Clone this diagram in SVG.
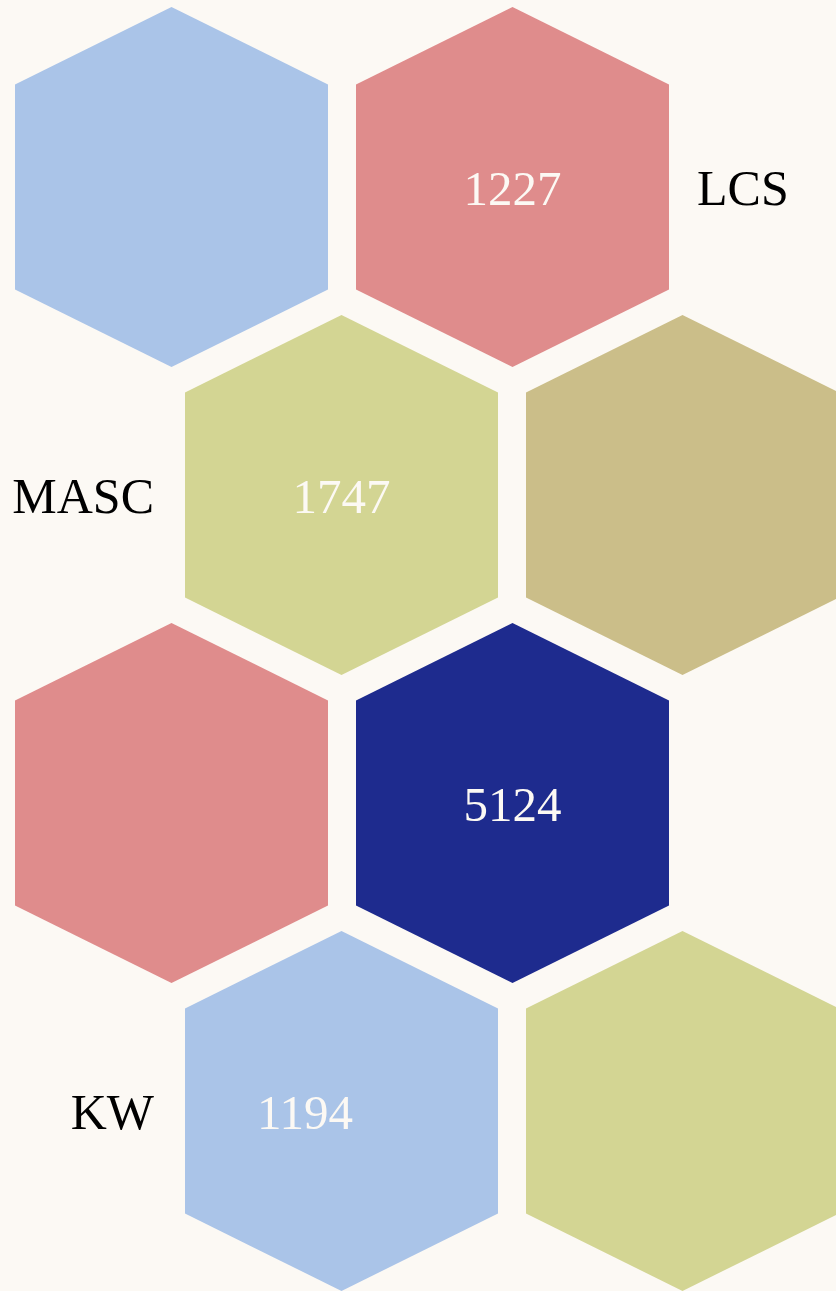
<svg xmlns="http://www.w3.org/2000/svg" width="836" height="1291" viewBox="0 0 836 1291">
<defs>
<style>
.num{font-family:"Liberation Serif","Times New Roman",serif;font-size:49px;fill:#FCF9F4;text-anchor:middle}
.lbl{font-family:"Liberation Serif","Times New Roman",serif;font-size:50px;fill:#000000}
.blue{fill:#AAC4E8}.red{fill:#DF8C8C}.green{fill:#D3D593}.tan{fill:#CBBE89}.navy{fill:#1E2B8E}
</style>
<polygon id="hex" points="0,-180 156.5,-102.5 156.5,102.5 0,180 -156.5,102.5 -156.5,-102.5"/>
</defs>
<rect width="836" height="1291" fill="#FCF9F4"/>
<g id="h1"><use href="#hex" class="blue" x="171.5" y="187"/></g>
<g id="h2"><use href="#hex" class="red" x="512.5" y="187"/><text class="num" x="512.5" y="205">1227</text></g>
<g id="h3"><use href="#hex" class="green" x="341.5" y="495"/><text class="num" x="341.5" y="513">1747</text></g>
<g id="h4"><use href="#hex" class="tan" x="682.5" y="495"/></g>
<g id="h5"><use href="#hex" class="red" x="171.5" y="803"/></g>
<g id="h6"><use href="#hex" class="navy" x="512.5" y="803"/><text class="num" x="512.5" y="821">5124</text></g>
<g id="h7"><use href="#hex" class="blue" x="341.5" y="1111"/><text class="num" x="305" y="1129">1194</text></g>
<g id="h8"><use href="#hex" class="green" x="682.5" y="1111"/></g>
<g id="labels">
<text class="lbl" x="697" y="205">LCS</text>
<text class="lbl" x="154" y="513" text-anchor="end">MASC</text>
<text class="lbl" x="154" y="1129" text-anchor="end">KW</text>
</g>
<g id="connectors"/>
</svg>
